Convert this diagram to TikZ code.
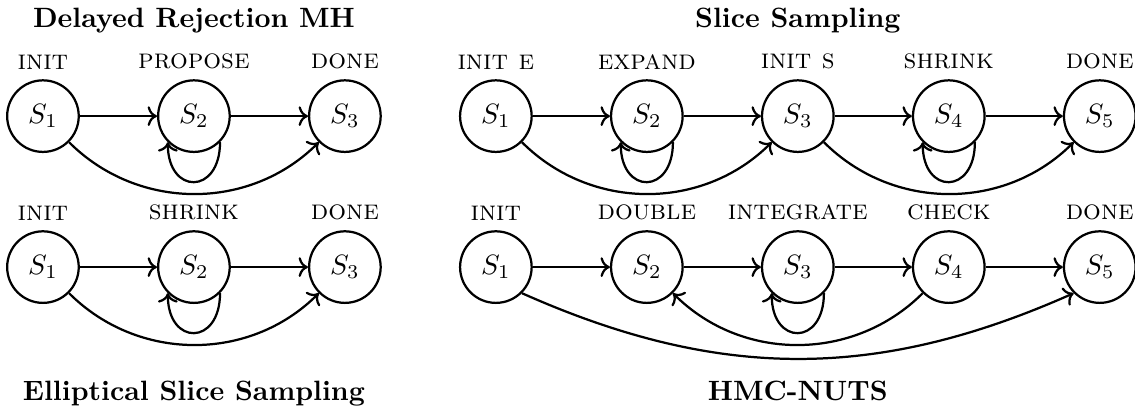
\documentclass[tikz,border=0pt]{standalone}
\usepackage{tikz}
\usetikzlibrary{arrows.meta, positioning}
\tikzstyle{state} = [circle, draw=black, thick, minimum size=0.9cm, inner sep=0pt]
\tikzstyle{heading} = [font=\bfseries, anchor=base]
\tikzstyle{arrow} = [thick,->]
\tikzstyle{selfloop} = [thick,->,out=-90,in=-90,looseness=2.6]

\begin{document}
\begin{tikzpicture}[node distance=0.97cm and 0.97cm]
\useasboundingbox (-0.54,1.46) rectangle (13.73,-3.716);

% Nodes (States)
\node[state, label=above:\textsc{init}] (d1) at (0,0) {$S_1$};
\node[state, right=of d1, label=above:\textsc{propose}] (d2) {$S_2$};
\node[state, right=of d2, label=above:\textsc{done}] (d3) {$S_3$};

\node[state, below=of d1, label=above:\textsc{init}] (e1) {$S_1$};
\node[state, right=of e1, label=above:\textsc{shrink}] (e2) {$S_2$};
\node[state, right=of e2, label=above:\textsc{done}] (e3) {$S_3$};

\node[state, right=of d3, label=above:\textsc{init e}] (s1) {$S_1$};
\node[state, right=of s1, label=above:\textsc{expand}] (s2) {$S_2$};
\node[state, right=of s2, label=above:\textsc{init s}] (s3) {$S_3$};
\node[state, right=of s3, label=above:\textsc{shrink}] (s4) {$S_4$};
\node[state, right=of s4, label=above:\textsc{done}] (s5) {$S_5$};

\node[state, below=of s1, label=above:\textsc{init}] (h1) {$S_1$};
\node[state, right=of h1, label=above:\textsc{double}] (h2) {$S_2$};
\node[state, right=of h2, label=above:\textsc{integrate}] (h3) {$S_3$};
\node[state, right=of h3, label=above:\textsc{check}] (h4) {$S_4$};
\node[state, right=of h4, label=above:\textsc{done}] (h5) {$S_5$};

% Titles
\node[heading] (tdr) at ([yshift=1.11cm]d2.center) {Delayed Rejection MH};
\node[heading] (tss) at ([yshift=1.11cm]s3.center) {Slice Sampling};
\node[heading] (tes) at ([yshift=-1.68cm]e2.center) {Elliptical Slice Sampling};
\node[heading] (thm) at ([yshift=-1.68cm]h3.center) {HMC-NUTS};

% Arrows (Transitions)
\draw[arrow] (d1) -- (d2);
\draw[arrow] (d2) -- (d3);
\draw[selfloop] (d2.south east) to (d2.south west);
\draw[arrow] (d1.south east) to[bend right=45] (d3.south west);

\draw[arrow] (e1) -- (e2);
\draw[arrow] (e2) -- (e3);
\draw[selfloop] (e2.south east) to (e2.south west);
\draw[arrow] (e1.south east) to[bend right=45] (e3.south west);

\draw[arrow] (s1) -- (s2);
\draw[arrow] (s2) -- (s3);
\draw[arrow] (s3) -- (s4);
\draw[arrow] (s4) -- (s5);
\draw[selfloop] (s2.south east) to (s2.south west);
\draw[selfloop] (s4.south east) to (s4.south west);
\draw[arrow] (s1.south east) to[bend right=45] (s3.south west);
\draw[arrow] (s3.south east) to[bend right=45] (s5.south west);

\draw[arrow] (h1) -- (h2);
\draw[arrow] (h2) -- (h3);
\draw[arrow] (h3) -- (h4);
\draw[arrow] (h4) -- (h5);
\draw[selfloop] (h3.south east) to (h3.south west);
\draw[arrow] (h4.south west) to[bend left=45] (h2.south east);
\draw[arrow] (h1.south east) to[bend right=24] (h5.south west);

\end{tikzpicture}
\end{document}
